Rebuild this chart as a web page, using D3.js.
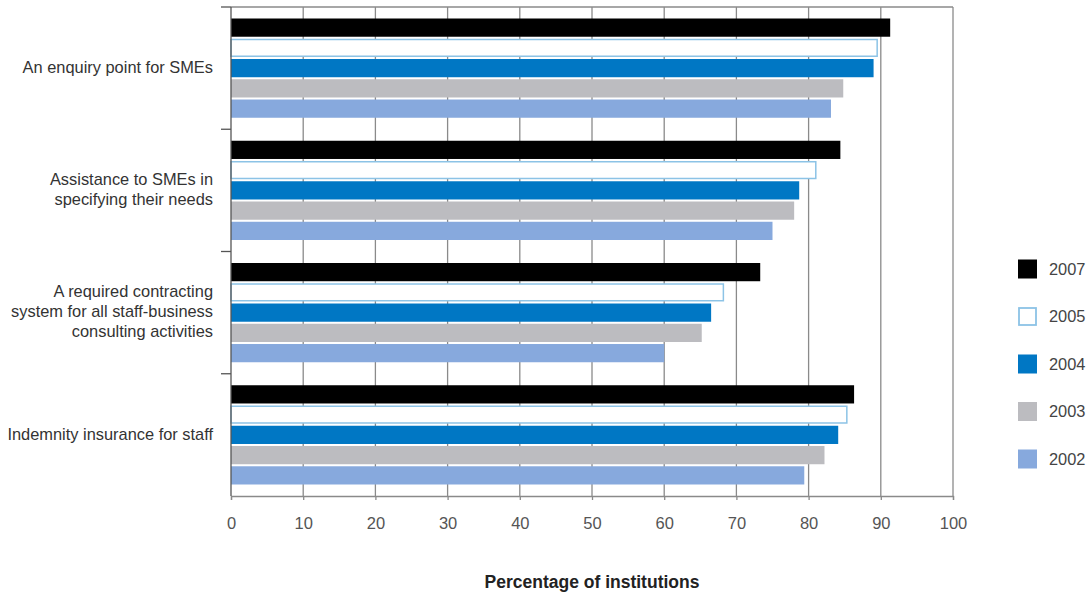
<!DOCTYPE html>
<html>
<head>
<meta charset="utf-8">
<script src="https://cdn.jsdelivr.net/npm/d3@7"></script>
<style>
  html, body { margin: 0; padding: 0; background: #fff; }
  svg { display: block; font-family: "Liberation Sans", Arial, Helvetica, sans-serif; }
</style>
</head>
<body>
<svg id="chart" width="1090" height="596"></svg>
<script>
// Categories (top to bottom), each label split into lines
const categories = [
  ["An enquiry point for SMEs"],
  ["Assistance to SMEs in", "specifying their needs"],
  ["A required contracting", "system for all staff-business", "consulting activities"],
  ["Indemnity insurance for staff"]
];

// Survey years, in drawing order within each category
const years = ["2007", "2005", "2004", "2003", "2002"];

// Percentage of institutions, one array per year (same order as categories)
const v2007 = [91.3, 84.4, 73.3, 86.3];
const v2005 = [89.6, 81.1, 68.3, 85.4];
const v2004 = [89.0, 78.7, 66.5, 84.1];
const v2003 = [84.8, 78.0, 65.2, 82.2];
const v2002 = [83.1, 75.0, 60.0, 79.4];

const xTicks = [0, 10, 20, 30, 40, 50, 60, 70, 80, 90, 100];
const axisTitle = "Percentage of institutions";

const seriesByYear = { "2007": v2007, "2005": v2005, "2004": v2004, "2003": v2003, "2002": v2002 };

const fills   = { "2007": "#000000", "2005": "#ffffff", "2004": "#0077c4", "2003": "#bcbcc0", "2002": "#87a9dd" };
const strokes = { "2007": "none",    "2005": "#8cc3e6", "2004": "none",    "2003": "none",    "2002": "none" };

const svg = d3.select("#chart");
const margin = { left: 231, right: 137, top: 7, bottom: 100 };
const W = 1090, H = 596;
const plotW = W - margin.left - margin.right;
const plotH = H - margin.top - margin.bottom;

const catKeys = categories.map((c, i) => i);

const x = d3.scaleLinear().domain([0, 100]).range([margin.left, margin.left + plotW]);
const y0 = d3.scaleBand().domain(catKeys).range([margin.top, margin.top + plotH]).padding(0);
const y1 = d3.scaleBand().domain(years).range([11.5, y0.bandwidth() - 11.5]).paddingInner(0.1).paddingOuter(0);

const gridColor = "#8a8a8a";

// Vertical gridlines
svg.append("g").selectAll("line").data(xTicks.slice(1)).join("line")
  .attr("x1", d => x(d)).attr("x2", d => x(d))
  .attr("y1", margin.top).attr("y2", margin.top + plotH)
  .attr("stroke", gridColor).attr("stroke-width", 1.3);

// Top frame line
svg.append("line")
  .attr("x1", x(0)).attr("x2", x(100))
  .attr("y1", margin.top).attr("y2", margin.top)
  .attr("stroke", gridColor).attr("stroke-width", 1.3);

// Bars
const groups = svg.append("g").selectAll("g").data(catKeys).join("g")
  .attr("transform", d => `translate(0,${y0(d)})`);

groups.selectAll("rect")
  .data(ci => years.map(yr => ({ yr, v: seriesByYear[yr][ci] })))
  .join("rect")
  .attr("x", x(0))
  .attr("y", d => y1(d.yr) + (strokes[d.yr] !== "none" ? 0.75 : 0))
  .attr("width", d => x(d.v) - x(0) - (strokes[d.yr] !== "none" ? 0.75 : 0))
  .attr("height", d => y1.bandwidth() - (strokes[d.yr] !== "none" ? 1.5 : 0))
  .attr("fill", d => fills[d.yr])
  .attr("stroke", d => strokes[d.yr])
  .attr("stroke-width", 1.5);

// X axis
const xAxis = d3.axisBottom(x).tickValues(xTicks).tickSize(4).tickPadding(17).tickFormat(d3.format("d"));
const gx = svg.append("g").attr("transform", `translate(0,${margin.top + plotH})`).call(xAxis);
gx.select(".domain").attr("stroke", gridColor).attr("stroke-width", 1.3);
gx.selectAll(".tick line").attr("stroke", gridColor).attr("stroke-width", 1.3);
gx.selectAll(".tick text").attr("fill", "#555").attr("font-size", 16.5)
  .attr("font-family", "'Liberation Sans', Arial, sans-serif");

// Y axis line with boundary ticks
svg.append("line")
  .attr("x1", x(0)).attr("x2", x(0))
  .attr("y1", margin.top).attr("y2", margin.top + plotH)
  .attr("stroke", "#555").attr("stroke-width", 1.3);
svg.append("g").selectAll("line").data(catKeys).join("line")
  .attr("x1", x(0) - 10).attr("x2", x(0))
  .attr("y1", d => y0(d)).attr("y2", d => y0(d))
  .attr("stroke", "#555").attr("stroke-width", 1.3);

// Category labels
const lineH = 20;
svg.append("g").selectAll("text").data(catKeys).join("text")
  .attr("text-anchor", "end")
  .attr("fill", "#333")
  .attr("font-size", 16.4)
  .each(function (ci) {
    const lines = categories[ci];
    const cy = y0(ci) + y0.bandwidth() / 2 - 1;
    const t = d3.select(this);
    lines.forEach((ln, j) => {
      t.append("tspan")
        .attr("x", 213)
        .attr("y", cy + (j - (lines.length - 1) / 2) * lineH)
        .attr("dy", "0.35em")
        .text(ln);
    });
  });

// Axis title
svg.append("text")
  .attr("x", x(50)).attr("y", 582)
  .attr("dy", "0.35em")
  .attr("text-anchor", "middle")
  .attr("font-size", 17.5)
  .attr("font-weight", "bold")
  .attr("fill", "#222")
  .text(axisTitle);

// Legend
const legendY = d3.scalePoint().domain(years).range([269, 459]);
const leg = svg.append("g").selectAll("g").data(years).join("g")
  .attr("transform", d => `translate(1018,${legendY(d)})`);
leg.append("rect")
  .attr("x", d => strokes[d] !== "none" ? 1 : 0)
  .attr("y", d => strokes[d] !== "none" ? -8.5 : -9.5)
  .attr("width", d => strokes[d] !== "none" ? 17 : 19)
  .attr("height", d => strokes[d] !== "none" ? 17 : 19)
  .attr("fill", d => fills[d])
  .attr("stroke", d => strokes[d])
  .attr("stroke-width", 1.8);
leg.append("text")
  .attr("x", 31).attr("y", 0).attr("dy", "0.35em")
  .attr("font-size", 16.4).attr("fill", "#444")
  .text(d => d);
</script>
</body>
</html>
